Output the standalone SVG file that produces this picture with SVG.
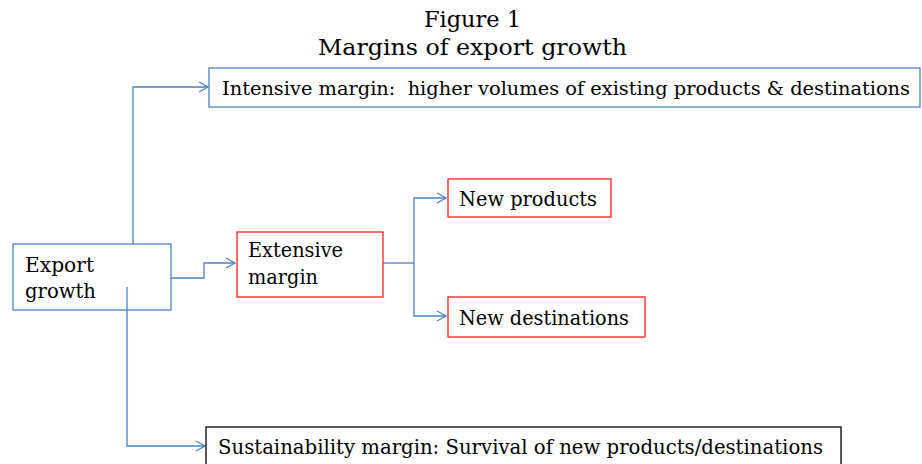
<svg xmlns="http://www.w3.org/2000/svg" width="922" height="464" viewBox="0 0 922 464">
<style>
.t{font-family:"DejaVu Serif","Liberation Serif",serif;font-size:20px;fill:#000}
.title{font-family:"DejaVu Serif","Liberation Serif",serif;font-size:23px;fill:#000}
.bb{fill:#fff;stroke:#4F81BD;stroke-width:1.3}
.rb{fill:#fff;stroke:#FF2020;stroke-width:1.3}
.kb{fill:#fff;stroke:#000;stroke-width:1.3}
.c{fill:none;stroke:#4F81BD;stroke-width:1.3}
</style>
<defs>
<marker id="ar" markerUnits="userSpaceOnUse" markerWidth="14" markerHeight="14" refX="10" refY="6" orient="auto">
<path d="M1,1 L10,6 L1,11" fill="none" stroke="#4F81BD" stroke-width="1.3"/>
</marker>
</defs>
<g id="title">
<text class="title" x="424" y="27" textLength="97" lengthAdjust="spacingAndGlyphs">Figure 1</text>
<text class="title" x="318" y="55" textLength="309" lengthAdjust="spacingAndGlyphs">Margins of export growth</text>
</g>
<g id="connectors">
<path class="c" d="M133,244 V87 H208" marker-end="url(#ar)"/>
<path class="c" d="M171,278 H204 V263 H235" marker-end="url(#ar)"/>
<path class="c" d="M383,263 H414"/>
<path class="c" d="M414,263 V198 H446" marker-end="url(#ar)"/>
<path class="c" d="M414,263 V316 H446" marker-end="url(#ar)"/>
<path class="c" d="M127,287 V446 H205" marker-end="url(#ar)"/>
</g>
<g id="export-growth">
<rect class="bb" x="13" y="244" width="158" height="66"/>
<text class="t" x="25" y="272" textLength="69" lengthAdjust="spacingAndGlyphs">Export</text>
<text class="t" x="25" y="298" textLength="71" lengthAdjust="spacingAndGlyphs">growth</text>
</g>
<path class="c" d="M127,287 V310"/>
<g id="intensive">
<rect class="bb" x="209" y="68" width="711" height="39"/>
<text class="t" x="222" y="95" style="font-size:18px" xml:space="preserve" textLength="688" lengthAdjust="spacingAndGlyphs">Intensive margin:  higher volumes of existing products &amp; destinations</text>
</g>
<g id="extensive">
<rect class="rb" x="237" y="232" width="146" height="65"/>
<text class="t" x="248" y="257" textLength="95" lengthAdjust="spacingAndGlyphs">Extensive</text>
<text class="t" x="248" y="284" textLength="70" lengthAdjust="spacingAndGlyphs">margin</text>
</g>
<g id="new-products">
<rect class="rb" x="448" y="179" width="163" height="38"/>
<text class="t" x="459" y="206" textLength="138" lengthAdjust="spacingAndGlyphs">New products</text>
</g>
<g id="new-destinations">
<rect class="rb" x="448" y="297" width="197" height="40"/>
<text class="t" x="459" y="325" textLength="170" lengthAdjust="spacingAndGlyphs">New destinations</text>
</g>
<g id="sustainability">
<rect class="kb" x="206" y="427" width="635" height="45"/>
<text class="t" x="218" y="454" textLength="605" lengthAdjust="spacingAndGlyphs">Sustainability margin: Survival of new products/destinations</text>
</g>
</svg>
